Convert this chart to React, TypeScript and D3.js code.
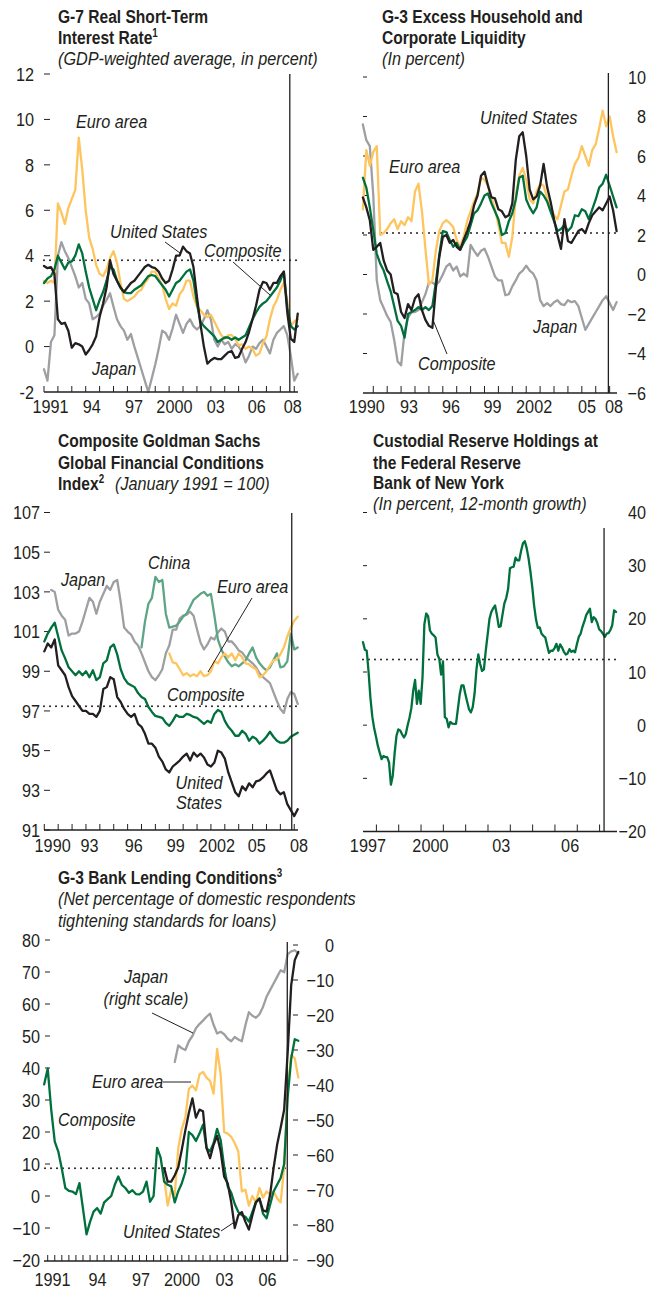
import React from "react";
import * as d3 from "d3";

// ---------------- DATA ----------------
// Panel 1: G-7 real short-term interest rate (quarterly from 1990)
const p1Start = 1990;
const p1Step = 0.25;
const p1UnitedStates = [3.55,3.45,3.5,3.2,1.2,1.0,1.05,0.7,-0.05,0.15, 0.1,0.0,-0.35,-0.15,0.1,0.45,1.3,1.9,2.6,3.8, 3.2,2.9,2.6,2.4,2.6,2.8,2.9,3.1,3.3,3.5, 3.6,3.5,3.45,3.3,3.0,2.8,2.9,3.4,4.0,4.0, 4.4,4.2,4.1,3.5,2.2,1.0,0.0,-0.75,-0.6,-0.5, -0.55,-0.55,-0.4,-0.25,-0.2,-0.5,-0.45,-0.1,0.2,0.65, 1.2,1.8,2.5,2.85,2.8,2.5,2.8,2.8,3.1,3.3, 1.5,0.35,0.2,1.45];
const p1EuroArea = [2.9,2.8,2.9,2.8,6.3,5.9,5.4,6.1,6.5,6.9, 9.2,7.8,6.0,4.8,4.3,3.6,3.2,3.1,3.4,3.9, 4.2,3.7,2.8,2.1,2.0,2.1,2.2,2.4,2.5,2.8, 3.0,3.3,3.3,3.0,2.7,2.1,1.65,1.9,1.8,2.3, 2.5,2.9,2.9,2.2,1.75,1.6,1.4,1.3,1.4,1.1, 0.8,0.5,0.35,0.5,0.5,0.35,0.05,0.1,-0.1,0.0, -0.1,-0.4,-0.3,0.15,0.45,1.2,1.75,2.05,2.5,2.8, 2.0,0.9,1.1,1.2];
const p1Composite = [2.8,3.0,3.1,3.4,4.0,3.7,3.4,3.7,3.75,4.0, 4.5,4.1,3.3,2.6,2.1,1.6,2.05,2.4,2.9,3.5, 3.4,2.9,2.6,2.4,2.35,2.35,2.5,2.6,2.7,2.9, 3.1,3.15,3.1,2.9,2.7,2.5,2.2,2.5,2.8,2.9, 3.1,3.3,3.4,2.9,1.9,1.1,0.9,0.75,0.6,0.45, 0.2,0.3,0.4,0.4,0.3,0.4,0.3,0.4,0.5,0.85, 1.2,1.5,1.75,1.9,2.0,2.2,2.4,2.6,2.9,3.3, 1.7,0.9,0.75,0.9];
const p1Japan = [-1.0,-1.5,0.2,0.5,4.0,4.6,4.2,3.9,3.5,3.1, 2.6,2.8,2.1,1.9,1.2,1.3,1.45,1.8,2.05,2.35, 1.75,1.2,0.9,0.7,0.3,0.55,0.0,-0.5,-1.0,-1.5, -2.0,-1.4,-0.8,-0.1,0.7,0.6,0.3,0.8,1.4,1.0, 0.6,1.0,1.2,0.9,0.75,0.9,1.2,1.6,1.2,0.3, 0.0,0.3,0.1,0.2,-0.1,0.1,0.0,-0.25,-0.7,-0.4, 0.0,-0.1,0.15,0.3,0.0,-0.3,0.3,0.6,0.75,0.9, 0.5,-0.4,-1.5,-1.2];
const p1Average = 3.8;
const p1YTicks = [-2, 0, 2, 4, 6, 8, 10, 12];
const p1XLabels: [string, number][] = [["1991", 1990.47], ["94", 1993.43], ["97", 1996.47], ["2000", 1999.38], ["03", 2002.36], ["06", 2005.3], ["08", 2007.89]];
const p1Event = 2007.68;

// Panel 2: G-3 excess household and corporate liquidity (quarterly from 1990Q2)
const p2Start = 1990.25;
const p2Step = 0.25;
const p2UnitedStates = [3.9,3.4,2.75,1.25,1.4,1.6,0.7,0.2,0.0,-0.9, -1.0,-1.9,-2.2,-1.5,-1.8,-1.2,-1.0,-1.8,-2.3,-2.6, -2.7,-0.7,0.9,1.9,2.0,1.6,1.75,1.4,1.25,1.75, 2.2,2.7,3.5,4.0,5.0,5.2,4.5,3.9,3.85,3.3, 3.2,2.9,3.0,3.6,5.8,7.0,7.2,6.0,4.3,3.8, 3.95,4.5,5.6,4.45,3.7,2.8,2.0,1.3,2.8,1.7, 1.6,1.9,2.2,2.3,2.1,2.6,3.0,3.2,3.4,3.25, 3.6,3.95,3.25,2.2];
const p2EuroArea = [3.3,6.3,5.5,6.2,6.5,2.0,2.1,2.3,2.6,2.8, 2.3,2.7,2.5,2.9,2.7,4.2,4.6,3.2,1.3,-0.5, -0.3,1.2,2.2,2.6,2.75,2.6,2.4,1.75,1.4,1.9, 2.7,3.2,3.7,4.1,4.9,4.8,4.5,3.9,3.3,2.5, 1.6,1.6,0.9,1.9,4.0,5.0,5.4,4.8,3.8,3.6, 4.2,4.6,4.5,3.9,3.3,3.0,2.8,3.5,4.2,4.3, 5.0,5.6,5.9,6.5,6.0,5.5,6.3,6.6,7.4,8.3, 7.5,8.0,7.0,6.2];
const p2Composite = [4.9,4.4,3.4,2.25,1.05,0.55,0.2,-0.35,-0.85,-1.6, -2.35,-2.6,-3.2,-2.0,-1.9,-1.8,-1.65,-1.8,-1.65,-1.8, -1.6,-0.4,1.0,2.2,2.15,1.75,1.4,1.6,1.25,1.6, 1.9,2.5,3.1,3.25,3.6,4.0,4.1,3.6,3.2,2.8, 2.0,2.1,2.7,3.1,3.8,4.9,5.0,3.8,3.4,3.1, 3.4,4.2,4.0,3.7,3.2,2.7,2.2,2.3,2.5,2.2, 2.4,3.0,2.95,3.3,3.2,2.8,3.3,3.8,4.4,4.6, 5.05,4.5,3.95,3.4];
const p2Japan = [7.6,6.8,6.5,4.0,-0.3,-1.3,-1.7,-2.1,-2.4,-3.3, -4.4,-4.6,-2.9,-2.2,-1.9,-1.9,-1.8,-1.4,-1.0,-0.4, -0.4,-0.55,-0.35,0.0,0.4,0.55,0.2,0.4,-0.1,0.05, -0.1,1.5,1.2,0.95,1.2,1.3,0.9,0.4,-0.1,-0.3, -0.3,-1.05,-1.0,-0.6,-0.3,0.05,0.2,0.45,0.2,0.05, -0.3,-1.3,-1.6,-1.45,-1.6,-1.4,-1.3,-1.5,-1.55,-1.3, -1.4,-1.35,-1.6,-2.2,-2.8,-2.5,-2.2,-1.9,-1.6,-1.3, -1.1,-1.45,-1.8,-1.4];
const p2Average = 2.1;
const p2YTicks = [-6, -4, -2, 0, 2, 4, 6, 8, 10];
const p2XLabels: [string, number][] = [["1990", 1990.53], ["93", 1993.57], ["96", 1996.59], ["99", 1999.58], ["2002", 2002.57], ["05", 2006.38], ["08", 2008.32]];
const p2Event = 2007.91;

// Panel 3: Goldman Sachs financial conditions index (quarterly)
const p3Start = 1990;
const p3Step = 0.25;
const p3UnitedStates = [100.0,100.4,100.2,100.6,99.3,99.05,98.8,98.2,97.75,97.5, 97.25,97.0,97.0,96.85,96.85,96.7,97.0,98.1,98.2,98.7, 98.6,97.7,97.45,97.1,96.85,96.7,96.85,96.35,96.2,95.85, 95.35,95.35,95.15,94.7,94.45,94.05,93.9,94.2,94.35,94.5, 94.7,94.85,94.5,94.9,94.7,94.85,94.65,94.3,94.2,94.4, 95.0,94.9,94.6,93.9,93.4,92.9,92.7,93.2,93.0,93.35, 93.15,93.45,93.5,93.65,93.85,94.0,93.5,93.0,92.8,92.9, 92.3,92.0,91.7,92.05];
const p3Composite = [100.5,100.9,101.2,101.45,100.75,100.05,99.65,99.2,99.0,98.8, 99.0,98.8,99.0,98.7,99.05,98.55,98.7,99.4,99.55,100.2, 100.35,99.85,99.1,98.65,98.4,98.3,98.2,97.9,97.7,97.6, 97.2,96.95,96.75,96.7,96.65,96.4,96.25,96.5,96.8,96.7, 96.7,96.85,96.8,96.7,96.65,96.5,96.35,96.5,96.4,96.85, 97.05,96.95,96.5,96.2,96.0,95.75,95.75,96.0,95.85,95.5, 95.7,95.6,95.35,95.5,95.7,95.95,95.7,95.5,95.4,95.4, 95.5,95.7,95.8,95.9];
const p3JapanStart = 1990.5;
const p3Japan = [103.1,103.0,102.1,101.8,101.6,100.8,100.9,100.9,101.0,101.5, 102.1,102.7,102.5,101.9,102.5,102.9,103.3,103.1,103.5,103.6, 102.5,101.2,101.0,100.85,100.5,100.3,99.9,99.45,99.0,98.7, 98.55,98.8,99.1,99.9,100.3,101.1,101.1,101.65,101.8,101.85, 102.0,101.8,101.1,100.45,100.1,100.35,100.7,100.6,100.95,101.15, 101.0,100.5,100.5,100.3,100.05,99.95,99.7,99.55,99.4,99.2, 98.9,98.7,98.55,98.4,97.95,97.5,97.1,96.9,97.6,97.95, 97.85,97.35];
const p3ChinaStart = 1997;
const p3China = [100.2,101.5,102.4,102.7,103.75,103.5,103.6,101.9,101.2,101.25, 101.3,101.5,101.75,101.9,102.25,102.6,102.75,102.9,103.0,102.8, 102.9,101.8,100.6,100.1,99.75,99.45,99.25,99.35,99.25,99.4, 99.55,99.9,100.2,99.7,99.4,99.2,99.05,99.2,99.55,99.9, 99.2,99.25,99.5,100.9,100.1,100.2];
const p3EuroStart = 1999;
const p3EuroArea = [99.9,99.45,99.4,99.1,98.8,98.9,98.75,98.85,98.75,99.0, 98.75,98.8,99.0,99.5,99.4,99.7,99.9,99.7,99.9,99.55, 99.9,99.7,99.4,99.35,99.2,99.1,98.7,98.8,99.0,99.3, 99.55,99.6,99.85,100.2,100.75,101.2,101.55,101.75];
const p3Average = 97.23;
const p3YTicks = [91, 93, 95, 97, 99, 101, 103, 105, 107];
const p3XLabels: [string, number][] = [["1990", 1990.6], ["93", 1993.25], ["96", 1996.45], ["99", 1999.47], ["2002", 2002.43], ["05", 2005.3], ["08", 2008.35]];
const p3Event = 2007.82;

// Panel 4: custodial reserve holdings, 12-month growth (monthly)
const p4Start = 1997.4;
const p4Step = 1 / 12;
const p4Holdings = [15.6,14.2,14.0,10.0,5.1,1.6,-0.6,-2.2,-3.9,-5.2, -6.4,-5.8,-6.0,-6.0,-7.0,-11.2,-9.5,-5.3,-2.0,-0.8, -1.0,-1.7,-2.3,-1.7,0.0,1.4,3.2,6.5,8.5,4.0, 6.5,4.0,9.0,19.0,21.0,20.5,17.8,17.2,16.9,16.5, 13.3,12.5,9.5,12.0,1.5,1.2,-0.4,0.6,0.3,0.25, 0.25,3.0,5.8,7.5,7.5,5.9,4.4,3.0,2.4,3.4, 6.0,10.5,13.3,11.5,10.2,10.5,14.0,17.0,20.0,21.3, 22.0,22.5,20.7,18.5,18.6,20.8,22.9,23.9,25.6,29.5, 29.7,29.8,31.5,31.0,31.0,32.8,34.2,34.6,33.3,31.4, 28.9,26.0,22.5,19.9,18.3,18.4,17.2,16.8,16.5,15.0, 13.6,14.0,14.0,14.5,15.3,14.0,15.2,14.6,13.8,13.3, 13.5,14.3,13.8,14.0,13.7,15.2,16.6,17.2,18.5,19.5, 20.7,21.3,21.9,19.4,20.3,20.0,19.2,18.0,17.7,17.2, 16.6,17.2,17.3,17.9,18.8,21.6,21.3];
const p4Average = 12.35;
const p4YTicks = [-20, -10, 0, 10, 20, 30, 40];
const p4XLabels: [string, number][] = [["1997", 1997.62], ["2000", 2000.42], ["03", 2003.59], ["06", 2006.68]];
const p4Event = 2008.2;

// Panel 5: G-3 bank lending conditions (quarterly)
const p5Start = 1990.75;
const p5Step = 0.25;
const p5Composite = [34.9,39.8,27.0,17.0,13.9,8.5,2.5,1.6,1.4,0.6, 4.0,-4.0,-12.0,-8.1,-4.9,-3.8,-5.5,-2.0,-1.0,0.0, 3.5,6.1,3.5,2.5,1.0,1.8,0.6,0.5,1.4,4.5, -1.8,0.0,15.0,12.0,4.5,3.5,3.0,-2.0,1.5,4.0, 7.5,20.0,19.0,17.2,19.5,22.3,15.0,13.9,16.5,21.0, 17.5,9.0,3.0,1.0,-2.5,-5.0,-6.0,-6.5,-8.0,-5.0, -1.8,-0.7,-5.5,-7.0,-2.8,1.4,3.5,5.6,10.0,31.0, 43.0,49.0,48.5];
const p5USStart = 1999.25;
const p5UnitedStates = [8.7,4.5,4.5,6.5,9.0,14.5,20.5,26.0,30.5,24.5, 27.0,26.5,15.0,11.8,16.0,18.8,14.0,6.0,4.0,-2.0, -10.0,-6.0,-5.0,-8.0,-10.5,-6.0,-2.0,-0.9,-4.5,-4.9, 0.3,8.7,16.0,21.3,27.0,45.0,66.0,73.7,76.3];
const p5EuroStart = 1999.25;
const p5EuroArea = [5.6,-3.0,2.0,0.5,15.0,21.0,24.5,33.5,34.5,33.0, 38.0,38.8,37.0,36.0,32.0,46.0,38.0,20.0,19.5,18.5, 16.5,13.9,1.4,2.0,-3.0,0.0,-2.0,2.5,-0.5,1.4, 0.5,1.4,-0.7,-2.0,9.0,34.0,44.0,43.0,37.0];
const p5JapanStart = 2000;
const p5JapanRight = [-33.4,-28.7,-29.5,-30.0,-27.5,-26.0,-23.8,-22.6,-21.6,-20.5, -19.6,-22.8,-25.3,-24.8,-25.5,-26.8,-27.5,-26.3,-27.0,-27.5, -23.0,-19.2,-20.2,-20.8,-19.8,-17.7,-14.8,-12.9,-11.0,-9.1, -7.2,-7.8,-2.6,-1.8,-1.5,-2.4];
const p5Average = 8.7;
const p5YTicksLeft = [-20, -10, 0, 10, 20, 30, 40, 50, 60, 70, 80];
const p5YTicksRight = [-90, -80, -70, -60, -50, -40, -30, -20, -10, 0];
const p5XLabels: [string, number][] = [["1991", 1991.34], ["94", 1994.53], ["97", 1997.61], ["2000", 2000.51], ["03", 2003.52], ["06", 2006.57]];
const p5Event = 2007.97;

// ---------------- STYLE ----------------
const INK = "#231f20";
const GREEN = "#00703c";
const YELLOW = "#fec55e";
const GRAY = "#9d9fa2";
const TEAL = "#5ea587";
const FONT = "'Liberation Sans', Arial, Helvetica, sans-serif";
const FS = 19;
const SQUEEZE_BOLD = 0.82; // condensed face look
const SQUEEZE = 0.855;
const LW = 2.3;

type Pt = [number, number];
type Lin = d3.ScaleLinear<number, number>;
const pts = (start: number, step: number, vals: number[]): Pt[] => vals.map((v, i) => [start + i * step, v]);
const path = (x: Lin, y: Lin, data: Pt[]) => d3.line<Pt>().x((d) => x(d[0])).y((d) => y(d[1]))(data) || "";
const minus = (v: number) => (v < 0 ? "\u2212" + Math.abs(v) : String(v));

const Txt = ({ x = 0, y = 0, children, fontWeight, ...rest }: any) => (
  <text
    transform={`translate(${x},${y}) scale(${fontWeight === "bold" ? SQUEEZE_BOLD : SQUEEZE},1)`}
    fill={INK}
    fontFamily={FONT}
    fontSize={FS}
    fontWeight={fontWeight}
    {...rest}
  >
    {children}
  </text>
);
const Series = ({ x, y, data, color }: { x: Lin; y: Lin; data: Pt[]; color: string }) => (
  <path d={path(x, y, data)} fill="none" stroke={color} strokeWidth={LW} strokeLinejoin="round" strokeLinecap="round" />
);
const Dotted = ({ x1, x2, y }: { x1: number; x2: number; y: number }) => (
  <line x1={x1} x2={x2} y1={y} y2={y} stroke={INK} strokeWidth={2} strokeDasharray="0 6" strokeLinecap="round" />
);
const Leader = ({ a, b }: { a: Pt; b: Pt }) => <line x1={a[0]} y1={a[1]} x2={b[0]} y2={b[1]} stroke={INK} strokeWidth={1} />;

function XAxis({ x, yAxis, from, to, ticks, labels, labelY, tickLen = 6 }: any) {
  return (
    <g>
      <line x1={from} x2={to} y1={yAxis} y2={yAxis} stroke={INK} strokeWidth={1.3} />
      {ticks.map((t: number) => (
        <line key={t} x1={x(t)} x2={x(t)} y1={yAxis} y2={yAxis - tickLen} stroke={INK} strokeWidth={1} />
      ))}
      {labels.map(([s, t]: [string, number]) => (
        <Txt key={s} x={x(t)} y={labelY} textAnchor="middle">{s}</Txt>
      ))}
    </g>
  );
}

export default function App() {
  // ---------- Panel 1 ----------
  const x1 = d3.scaleLinear().domain([1990, 2008.27]).range([44, 298]);
  const y1 = d3.scaleLinear().domain([-2, 12]).range([392, 74]);
  const p1Ticks = d3.range(1990, 2009);

  // ---------- Panel 2 ----------
  const x2 = d3.scaleLinear().domain([1990.26, 2008.53]).range([363, 617]);
  const y2 = d3.scaleLinear().domain([-6, 10]).range([393, 77]);
  const p2Ticks = d3.range(1991, 2009);

  // ---------- Panel 3 ----------
  const x3 = d3.scaleLinear().domain([1990, 2008.27]).range([44.3, 298]);
  const y3 = d3.scaleLinear().domain([91, 107]).range([830, 512.5]);
  const p3Ticks = d3.range(1990, 2009);

  // ---------- Panel 4 ----------
  const x4 = d3.scaleLinear().domain([1997.4, 2008.78]).range([363, 617]);
  const y4 = d3.scaleLinear().domain([-20, 40]).range([831.5, 512.5]);
  const p4Ticks = d3.range(1998, 2009);

  // ---------- Panel 5 ----------
  const x5 = d3.scaleLinear().domain([1991, 2008]).range([47.7, 287.7]);
  const y5 = d3.scaleLinear().domain([-20, 80]).range([1260, 940]);
  const y5r = d3.scaleLinear().domain([-90, 0]).range([1260, 945]);
  const p5Ticks = d3.range(1991, 2008.01, 0.5);

  return (
    <svg width={648} height={1290} style={{ position: "absolute", left: 0, top: 0, background: "#fff" }}>
      {/* ================= PANEL 1 ================= */}
      <g>
        <Txt x={58} y={23} fontWeight="bold">G-7 Real Short-Term</Txt>
        <Txt x={58} y={44} fontWeight="bold">Interest Rate<tspan fontSize={12} dy={-7}>1</tspan></Txt>
        <Txt x={58} y={65} fontStyle="italic">(GDP-weighted average, in percent)</Txt>
        {p1YTicks.map((v) => (
          <g key={v}>
            {v !== -2 && <line x1={44} x2={50} y1={y1(v)} y2={y1(v)} stroke={INK} strokeWidth={1} />}
            <Txt x={34} y={y1(v)} dy="0.35em" textAnchor="end">{String(v)}</Txt>
          </g>
        ))}
        <Dotted x1={44} x2={298} y={y1(p1Average)} />
        <Series x={x1} y={y1} data={pts(p1Start, p1Step, p1Japan)} color={GRAY} />
        <Series x={x1} y={y1} data={pts(p1Start, p1Step, p1EuroArea)} color={YELLOW} />
        <Series x={x1} y={y1} data={pts(p1Start, p1Step, p1Composite)} color={GREEN} />
        <Series x={x1} y={y1} data={pts(p1Start, p1Step, p1UnitedStates)} color={INK} />
        <line x1={x1(p1Event)} x2={x1(p1Event)} y1={74} y2={392} stroke={INK} strokeWidth={1.3} />
        <XAxis x={x1} yAxis={392} from={44} to={298} ticks={p1Ticks} labels={p1XLabels} labelY={413} />
        <Txt x={76} y={128} fontStyle="italic">Euro area</Txt>
        <Txt x={110} y={238} fontStyle="italic">United States</Txt>
        <Leader a={[165, 242]} b={[180, 253]} />
        <Txt x={204} y={257} fontStyle="italic">Composite</Txt>
        <Leader a={[233, 262]} b={[270, 295]} />
        <Txt x={92} y={375} fontStyle="italic">Japan</Txt>
      </g>

      {/* ================= PANEL 2 ================= */}
      <g>
        <Txt x={382} y={23} fontWeight="bold">G-3 Excess Household and</Txt>
        <Txt x={382} y={44} fontWeight="bold">Corporate Liquidity</Txt>
        <Txt x={382} y={65} fontStyle="italic">(In percent)</Txt>
        {p2YTicks.map((v) => (
          <g key={v}>
            {v !== -6 && <line x1={363} x2={367} y1={y2(v)} y2={y2(v)} stroke={INK} strokeWidth={1} />}
            <Txt x={646} y={y2(v)} dy="0.35em" textAnchor="end">{minus(v)}</Txt>
          </g>
        ))}
        <Dotted x1={363} x2={617} y={y2(p2Average)} />
        <Series x={x2} y={y2} data={pts(p2Start, p2Step, p2Japan)} color={GRAY} />
        <Series x={x2} y={y2} data={pts(p2Start, p2Step, p2EuroArea)} color={YELLOW} />
        <Series x={x2} y={y2} data={pts(p2Start, p2Step, p2Composite)} color={GREEN} />
        <Series x={x2} y={y2} data={pts(p2Start, p2Step, p2UnitedStates)} color={INK} />
        <line x1={x2(p2Event)} x2={x2(p2Event)} y1={73} y2={393} stroke={INK} strokeWidth={1.3} />
        <XAxis x={x2} yAxis={393} from={363} to={617} ticks={p2Ticks} labels={p2XLabels} labelY={413} tickLen={7} />
        <Txt x={480} y={124} fontStyle="italic">United States</Txt>
        <Txt x={389} y={173} fontStyle="italic">Euro area</Txt>
        <Txt x={533} y={333} fontStyle="italic">Japan</Txt>
        <Txt x={418} y={370} fontStyle="italic">Composite</Txt>
        <Leader a={[447, 354]} b={[433, 320]} />
      </g>

      {/* ================= PANEL 3 ================= */}
      <g>
        <Txt x={58} y={447} fontWeight="bold">Composite Goldman Sachs</Txt>
        <Txt x={58} y={468.5} fontWeight="bold">Global Financial Conditions</Txt>
        <Txt x={58} y={490} fontWeight="bold">Index<tspan fontSize={12} dy={-7}>2</tspan></Txt>
        <Txt x={115} y={490} fontStyle="italic">(January 1991 = 100)</Txt>
        {p3YTicks.map((v) => (
          <g key={v}>
            <line x1={44} x2={50} y1={y3(v)} y2={y3(v)} stroke={INK} strokeWidth={1} />
            <Txt x={40} y={y3(v)} dy="0.35em" textAnchor="end">{String(v)}</Txt>
          </g>
        ))}
        <Dotted x1={44} x2={298} y={y3(p3Average)} />
        <Series x={x3} y={y3} data={pts(p3JapanStart, p3Step, p3Japan)} color={GRAY} />
        <Series x={x3} y={y3} data={pts(p3ChinaStart, p3Step, p3China)} color={TEAL} />
        <Series x={x3} y={y3} data={pts(p3EuroStart, p3Step, p3EuroArea)} color={YELLOW} />
        <Series x={x3} y={y3} data={pts(p3Start, p3Step, p3Composite)} color={GREEN} />
        <Series x={x3} y={y3} data={pts(p3Start, p3Step, p3UnitedStates)} color={INK} />
        <line x1={x3(p3Event)} x2={x3(p3Event)} y1={513} y2={830} stroke={INK} strokeWidth={1.3} />
        <XAxis x={x3} yAxis={830} from={44} to={298} ticks={p3Ticks} labels={p3XLabels} labelY={852} />
        <Txt x={61} y={586} fontStyle="italic">Japan</Txt>
        <Txt x={148} y={569} fontStyle="italic">China</Txt>
        <Txt x={217} y={593} fontStyle="italic">Euro area</Txt>
        <Leader a={[252, 598]} b={[208, 672]} />
        <Txt x={167} y={701} fontStyle="italic">Composite</Txt>
        <Txt x={199} y={789} fontStyle="italic" textAnchor="middle">United</Txt>
        <Txt x={199} y={809} fontStyle="italic" textAnchor="middle">States</Txt>
      </g>

      {/* ================= PANEL 4 ================= */}
      <g>
        <Txt x={373} y={447} fontWeight="bold">Custodial Reserve Holdings at</Txt>
        <Txt x={373} y={468.5} fontWeight="bold">the Federal Reserve</Txt>
        <Txt x={373} y={489} fontWeight="bold">Bank of New York</Txt>
        <Txt x={373} y={510} fontStyle="italic">(In percent, 12-month growth)</Txt>
        {p4YTicks.map((v) => (
          <g key={v}>
            {v !== -20 && <line x1={363} x2={367} y1={y4(v)} y2={y4(v)} stroke={INK} strokeWidth={1} />}
            <Txt x={646} y={y4(v)} dy="0.35em" textAnchor="end">{minus(v)}</Txt>
          </g>
        ))}
        <Dotted x1={363} x2={617} y={y4(p4Average)} />
        <Series x={x4} y={y4} data={pts(p4Start, p4Step, p4Holdings)} color={GREEN} />
        <line x1={x4(p4Event)} x2={x4(p4Event)} y1={528} y2={831.5} stroke={INK} strokeWidth={1.3} />
        <XAxis x={x4} yAxis={831.5} from={363} to={617} ticks={p4Ticks} labels={p4XLabels} labelY={852} tickLen={7} />
      </g>

      {/* ================= PANEL 5 ================= */}
      <g>
        <Txt x={58} y={883.5} fontWeight="bold">G-3 Bank Lending Conditions<tspan fontSize={12} dy={-7}>3</tspan></Txt>
        <Txt x={58} y={905} fontStyle="italic">(Net percentage of domestic respondents</Txt>
        <Txt x={58} y={926.5} fontStyle="italic">tightening standards for loans)</Txt>
        {p5YTicksLeft.map((v) => (
          <g key={"l" + v}>
            {v !== -20 && <line x1={45} x2={50} y1={y5(v)} y2={y5(v)} stroke={INK} strokeWidth={1} />}
            <Txt x={40} y={y5(v)} dy="0.35em" textAnchor="end">{minus(v)}</Txt>
          </g>
        ))}
        {p5YTicksRight.map((v) => (
          <g key={"r" + v}>
            <line x1={293} x2={298} y1={y5r(v)} y2={y5r(v)} stroke={INK} strokeWidth={1} />
            <Txt x={334} y={y5r(v)} dy="0.35em" textAnchor="end">{minus(v)}</Txt>
          </g>
        ))}
        <Dotted x1={45} x2={288} y={y5(p5Average)} />
        <Series x={x5} y={y5r} data={pts(p5JapanStart, p5Step, p5JapanRight)} color={GRAY} />
        <Series x={x5} y={y5} data={pts(p5EuroStart, p5Step, p5EuroArea)} color={YELLOW} />
        <Series x={x5} y={y5} data={pts(p5Start, p5Step, p5Composite)} color={GREEN} />
        <Series x={x5} y={y5} data={pts(p5USStart, p5Step, p5UnitedStates)} color={INK} />
        <line x1={x5(p5Event)} x2={x5(p5Event)} y1={942} y2={1261} stroke={INK} strokeWidth={1.3} />
        <XAxis x={x5} yAxis={1261} from={44} to={288} ticks={p5Ticks} labels={p5XLabels} labelY={1286} tickLen={6} />
        <Txt x={146} y={983} fontStyle="italic" textAnchor="middle">Japan</Txt>
        <Txt x={146} y={1005} fontStyle="italic" textAnchor="middle">(right scale)</Txt>
        <Leader a={[152, 1013]} b={[193, 1033]} />
        <Txt x={92} y={1088} fontStyle="italic">Euro area</Txt>
        <Leader a={[163, 1082]} b={[191, 1082]} />
        <Txt x={58} y={1126} fontStyle="italic">Composite</Txt>
        <Txt x={123} y={1238} fontStyle="italic">United States</Txt>
        <Leader a={[221, 1231]} b={[233, 1223]} />
      </g>
    </svg>
  );
}
